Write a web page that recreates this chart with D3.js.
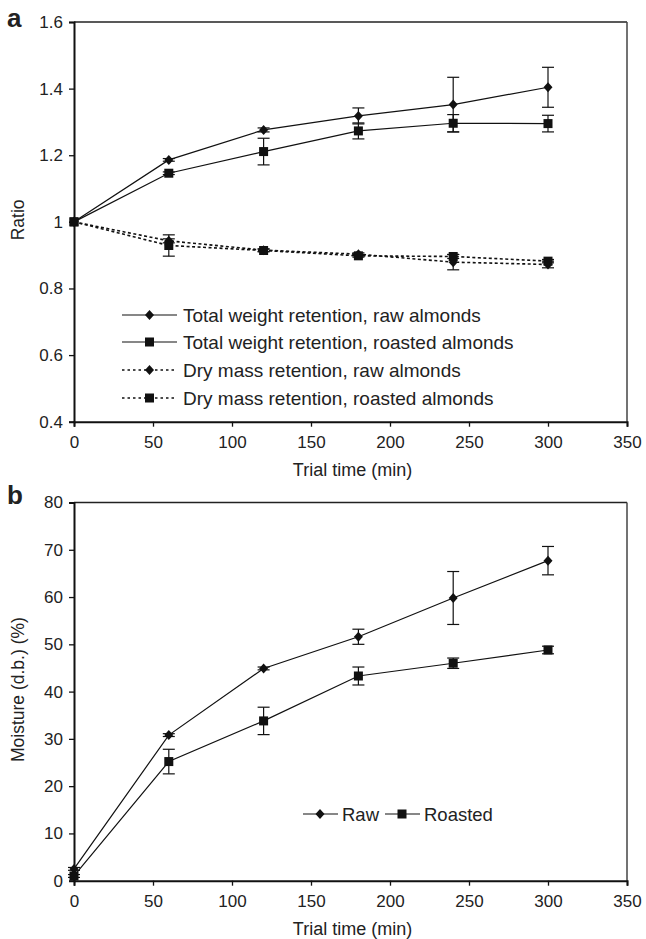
<!DOCTYPE html>
<html><head><meta charset="utf-8">
<script src="https://cdn.jsdelivr.net/npm/d3@7"></script>
<style>
body{margin:0;background:#fff;}
text{font-family:"Liberation Sans",Arial,Helvetica,sans-serif;fill:#222;}
</style></head>
<body><svg id="c" width="646" height="939"></svg>
<script>
// ---- data ----
const times = [0, 60, 120, 180, 240, 300];
// panel a
const totalRaw      = [1.000, 1.186, 1.276, 1.318, 1.352, 1.404];
const totalRawErr   = [0, 0.004, 0.006, 0.024, 0.082, 0.060];
const totalRoast    = [1.000, 1.146, 1.211, 1.273, 1.296, 1.295];
const totalRoastErr = [0, 0.004, 0.040, 0.024, 0.026, 0.025];
const dryRaw        = [1.000, 0.943, 0.915, 0.903, 0.879, 0.872];
const dryRawErr     = [0, 0.006, 0.004, 0.004, 0.023, 0.010];
const dryRoast      = [1.000, 0.929, 0.914, 0.898, 0.896, 0.882];
const dryRoastErr   = [0, 0.032, 0.004, 0.004, 0.006, 0.005];
// panel b
const moistRaw      = [2.5, 30.8, 44.9, 51.6, 59.8, 67.7];
const moistRawErr   = [0.3, 0.3, 0.3, 1.6, 5.6, 3.0];
const moistRoast    = [1.0, 25.2, 33.8, 43.3, 46.0, 48.8];
const moistRoastErr = [0.3, 2.6, 2.9, 1.9, 1.1, 0.8];

const xTicks = [0, 50, 100, 150, 200, 250, 300, 350];
const yTicksA = [0.4, 0.6, 0.8, 1, 1.2, 1.4, 1.6];
const yTicksB = [0, 10, 20, 30, 40, 50, 60, 70, 80];
const legendA = ["Total weight retention, raw almonds", "Total weight retention, roasted almonds",
                 "Dry mass retention, raw almonds", "Dry mass retention, roasted almonds"];
const legendB = ["Raw", "Roasted"];

const svg = d3.select("#c");
const L = 74, R = 627;
const x = d3.scaleLinear().domain([0, 350]).range([L, R]);

function marker(g, type, cx, cy) {
  if (type === "d") {
    g.append("path").attr("d", `M${cx},${cy-5}L${cx+4.5},${cy}L${cx},${cy+5}L${cx-4.5},${cy}Z`).attr("fill", "#111");
  } else {
    g.append("rect").attr("x", cx-4.5).attr("y", cy-4.5).attr("width", 9).attr("height", 9).attr("fill", "#111");
  }
}

function panel(opts) {
  const y = d3.scaleLinear().domain(opts.ydom).range([opts.bottom, opts.top]);
  const g = svg.append("g");
  g.append("line").attr("x1", L).attr("x2", R).attr("y1", opts.top).attr("y2", opts.top).attr("stroke", "#222").attr("stroke-width", 1.3);
  g.append("line").attr("x1", R).attr("x2", R).attr("y1", opts.top).attr("y2", opts.bottom).attr("stroke", "#444").attr("stroke-width", 1.5);
  const ax = g.append("g").attr("transform", `translate(0,${opts.bottom})`)
    .call(d3.axisBottom(x).tickValues(xTicks).tickSize(5).tickPadding(9).tickFormat(d3.format("d")));
  const ay = g.append("g").attr("transform", `translate(${L},0)`)
    .call(d3.axisLeft(y).tickValues(opts.yticks).tickSize(5).tickPadding(6).tickFormat(opts.fmt));
  [ax, ay].forEach(a => {
    a.select(".domain").attr("stroke", "#111").attr("stroke-width", 2);
    a.selectAll(".tick line").attr("stroke", "#111").attr("stroke-width", 1.3);
    a.selectAll("text").attr("font-size", 17).attr("fill", "#222").style("font-family", '"Liberation Sans",Arial,sans-serif');
  });
  opts.series.forEach(s => {
    const line = d3.line().x((d, i) => x(times[i])).y(d => y(d));
    g.append("path").attr("d", line(s.v)).attr("fill", "none").attr("stroke", "#111")
      .attr("stroke-width", s.dash ? 1.6 : 1.2).attr("stroke-dasharray", s.dash ? "3,2.5" : null);
    s.v.forEach((v, i) => {
      const e = s.e[i];
      if (e > 0) {
        const cx = x(times[i]);
        g.append("line").attr("x1", cx).attr("x2", cx).attr("y1", y(v - e)).attr("y2", y(v + e)).attr("stroke", "#111").attr("stroke-width", 1.2);
        [v - e, v + e].forEach(w => g.append("line").attr("x1", cx - 6).attr("x2", cx + 6).attr("y1", y(w)).attr("y2", y(w)).attr("stroke", "#111").attr("stroke-width", 1.2));
      }
      marker(g, s.m, x(times[i]), y(v));
    });
  });
  svg.append("text").attr("x", 7).attr("y", opts.letterY).attr("font-size", 26).attr("font-weight", "bold").attr("fill", "#111").text(opts.letter);
  svg.append("text").attr("transform", `translate(24,${(opts.top + opts.bottom) / 2 - 2}) rotate(-90)`)
    .attr("text-anchor", "middle").attr("font-size", 17.5).text(opts.ylabel);
  svg.append("text").attr("x", (L + R) / 2 + 2).attr("y", opts.bottom + 54).attr("text-anchor", "middle").attr("font-size", 18).text("Trial time (min)");
  return { g, y };
}

panel({
  top: 22, bottom: 421.7, ydom: [0.4, 1.6], yticks: yTicksA, fmt: d => (d === 1 ? "1" : d3.format(".1f")(d)),
  letter: "a", letterY: 27, ylabel: "Ratio",
  series: [
    { v: totalRaw, e: totalRawErr, m: "d", dash: false },
    { v: totalRoast, e: totalRoastErr, m: "s", dash: false },
    { v: dryRaw, e: dryRawErr, m: "d", dash: true },
    { v: dryRoast, e: dryRoastErr, m: "s", dash: true }
  ]
});
const legTypes = [["d", false], ["s", false], ["d", true], ["s", true]];
const legY = [315, 342, 370, 398];
legendA.forEach((t, i) => {
  const g = svg.append("g");
  g.append("line").attr("x1", 122).attr("x2", 177).attr("y1", legY[i]).attr("y2", legY[i]).attr("stroke", "#111")
    .attr("stroke-width", legTypes[i][1] ? 1.6 : 1.2).attr("stroke-dasharray", legTypes[i][1] ? "2.5,3" : null);
  marker(g, legTypes[i][0], 149.5, legY[i]);
  g.append("text").attr("x", 183).attr("y", legY[i] + 7).attr("font-size", 19).text(t);
});

panel({
  top: 502.5, bottom: 880.7, ydom: [0, 80], yticks: yTicksB, fmt: d3.format("d"),
  letter: "b", letterY: 504, ylabel: "Moisture (d.b.) (%)",
  series: [
    { v: moistRaw, e: moistRawErr, m: "d", dash: false },
    { v: moistRoast, e: moistRoastErr, m: "s", dash: false }
  ]
});
const lbY = 814;
const lbItems = [{ x1: 303, x2: 338, mx: 320, m: "d", tx: 342 }, { x1: 385, x2: 420, mx: 402, m: "s", tx: 424 }];
legendB.forEach((t, i) => {
  const it = lbItems[i];
  const g = svg.append("g");
  g.append("line").attr("x1", it.x1).attr("x2", it.x2).attr("y1", lbY).attr("y2", lbY).attr("stroke", "#111").attr("stroke-width", 1.2);
  marker(g, it.m, it.mx, lbY);
  g.append("text").attr("x", it.tx).attr("y", lbY + 7).attr("font-size", 18.5).text(t);
});
</script></body></html>
